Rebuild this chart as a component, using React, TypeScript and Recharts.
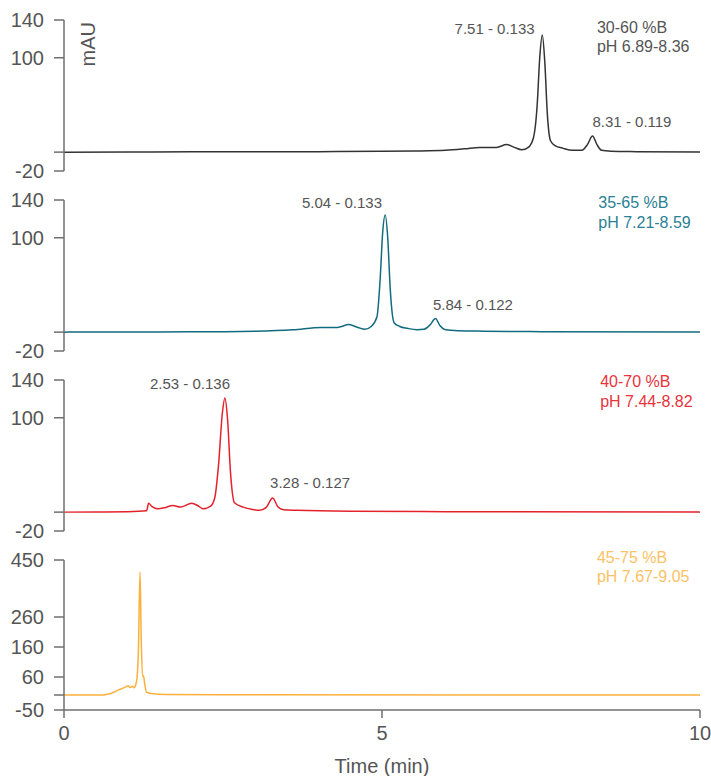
import { LineChart, Line, XAxis, YAxis, ReferenceDot } from "recharts";

const FONT = '"Liberation Sans", Arial, Helvetica, sans-serif';
const AXIS = "#6f6f6f";
const TEXT = "#555555";

// time axis
const X_TICKS = [0, 5, 10];

// 30-60 %B
const TIME_1 = [0, 1, 2, 3, 4, 5, 5.5, 6.0, 6.3, 6.54, 6.8, 6.96, 7.08, 7.2, 7.3, 7.38, 7.44, 7.48, 7.52, 7.56, 7.6, 7.65, 7.72, 7.85, 8.0, 8.14, 8.23, 8.31, 8.38, 8.45, 8.6, 9.0, 10];
const MAU_1 = [0, 0.1, 0.3, 0.3, 0.5, 0.8, 1.2, 2, 3.5, 5, 5, 8, 5, 2.5, 5, 15, 50, 100, 124, 95, 40, 12, 7, 4, 2, 2, 8, 17, 8, 2, 1, 0.5, 0];

// 35-65 %B
const TIME_2 = [0, 1, 2, 3, 3.6, 4.05, 4.3, 4.48, 4.62, 4.73, 4.83, 4.92, 4.97, 5.01, 5.05, 5.09, 5.13, 5.19, 5.28, 5.4, 5.55, 5.66, 5.76, 5.84, 5.91, 6.0, 6.2, 6.6, 7.5, 10];
const MAU_2 = [0, 0.2, 0.3, 1, 2.5, 5, 5, 8, 5, 3, 6, 16, 55, 105, 124, 100, 45, 10, 6, 4, 2.5, 3, 8, 14.5, 7, 2.5, 1.5, 1, 0.5, 0];

// 40-70 %B
const TIME_3 = [0, 0.5, 1.0, 1.3, 1.33, 1.38, 1.48, 1.6, 1.71, 1.83, 2.01, 2.1, 2.19, 2.3, 2.37, 2.43, 2.49, 2.53, 2.57, 2.62, 2.68, 2.82, 2.95, 3.08, 3.18, 3.28, 3.36, 3.45, 3.66, 4.5, 6, 10];
const MAU_3 = [0, 0.2, 0.5, 1.5, 9.5, 6, 3.5, 5, 7, 5.3, 9.5, 7, 3.5, 6, 15, 50, 105, 121, 100, 40, 10, 5.3, 3, 2, 5, 15, 6, 2.5, 2, 1, 0.5, 0];

// 45-75 %B
const TIME_4 = [0, 0.6, 0.66, 0.72, 0.78, 0.86, 0.93, 0.98, 1.01, 1.04, 1.08, 1.1, 1.14, 1.17, 1.195, 1.215, 1.235, 1.25, 1.27, 1.3, 1.4, 1.6, 2.5, 10];
const MAU_4 = [0, 0, 1.5, 4, 9, 17, 23, 28, 31, 25, 29, 24, 45, 150, 410, 180, 62, 64, 35, 9, 4, 2, 1, 0];

const Y_TICKS_SMALL = [-20, 0, 100, 140];
const Y_TICKS_LARGE = [-50, 0, 60, 160, 260, 450];

type Note = { x: number; y: number; lines: string[]; anchor: "start" | "end"; color: string; size: number };

type Panel = {
  time: number[];
  mau: number[];
  color: string;
  domain: [number, number];
  ticks: number[];
  notes: Note[];
};

const zip = (t: number[], v: number[]) => t.map((x, i) => ({ t: x, v: v[i] }));

const PANELS: Panel[] = [
  {
    time: TIME_1,
    mau: MAU_1,
    color: "#333333",
    domain: [-20, 140],
    ticks: Y_TICKS_SMALL,
    notes: [
      { x: 7.4, y: 131, lines: ["7.51 - 0.133"], anchor: "end", color: TEXT, size: 15 },
      { x: 8.31, y: 32, lines: ["8.31 - 0.119"], anchor: "start", color: TEXT, size: 15 },
      { x: 8.38, y: 132, lines: ["30-60 %B", "pH 6.89-8.36"], anchor: "start", color: TEXT, size: 16 },
    ],
  },
  {
    time: TIME_2,
    mau: MAU_2,
    color: "#136b7f",
    domain: [-20, 140],
    ticks: Y_TICKS_SMALL,
    notes: [
      { x: 5.0, y: 137.5, lines: ["5.04 - 0.133"], anchor: "end", color: TEXT, size: 15 },
      { x: 5.8, y: 28.7, lines: ["5.84 - 0.122"], anchor: "start", color: TEXT, size: 15 },
      { x: 8.4, y: 137, lines: ["35-65 %B", "pH 7.21-8.59"], anchor: "start", color: "#2a7f94", size: 16 },
    ],
  },
  {
    time: TIME_3,
    mau: MAU_3,
    color: "#e3232c",
    domain: [-20, 140],
    ticks: Y_TICKS_SMALL,
    notes: [
      { x: 2.61, y: 136, lines: ["2.53 - 0.136"], anchor: "end", color: TEXT, size: 15 },
      { x: 3.24, y: 31, lines: ["3.28 - 0.127"], anchor: "start", color: TEXT, size: 15 },
      { x: 8.43, y: 138, lines: ["40-70 %B", "pH 7.44-8.82"], anchor: "start", color: "#e8333b", size: 16 },
    ],
  },
  {
    time: TIME_4,
    mau: MAU_4,
    color: "#fbb03b",
    domain: [-50, 450],
    ticks: Y_TICKS_LARGE,
    notes: [
      { x: 8.38, y: 459, lines: ["45-75 %B", "pH 7.67-9.05"], anchor: "start", color: "#fbc266", size: 16 },
    ],
  },
];

function NoteText({ viewBox, note }: any) {
  const x = viewBox.x;
  const y = viewBox.y;
  return (
    <text x={x} y={y} textAnchor={note.anchor} fill={note.color} fontSize={note.size} fontFamily={FONT}>
      {note.lines.map((l: string, i: number) => (
        <tspan key={i} x={x} dy={i === 0 ? "0.35em" : "1.2em"}>
          {l}
        </tspan>
      ))}
    </text>
  );
}

function UnitLabel({ viewBox }: any) {
  const x = viewBox.x + viewBox.width + 24;
  const y = viewBox.y + 2;
  return (
    <text
      transform={`translate(${x},${y}) rotate(-90)`}
      textAnchor="end"
      dominantBaseline="central"
      fill={TEXT}
      fontSize={20}
      fontFamily={FONT}
    >
      mAU
    </text>
  );
}

function Trace({ p, first, last }: { p: Panel; first: boolean; last: boolean }) {
  const data = zip(p.time, p.mau);
  const tickStyle = { fill: TEXT, fontSize: 20, fontFamily: FONT };
  const line = { stroke: AXIS, strokeWidth: 1.5 };
  return (
    <LineChart
      width={711}
      height={last ? 236 : 200}
      data={data}
      margin={{ top: 20, right: 11, bottom: last ? 0 : 29, left: 0 }}
    >
      <XAxis
        type="number"
        dataKey="t"
        domain={[0, 10]}
        ticks={X_TICKS}
        interval={0}
        height={last ? 66 : 0}
        tick={last ? tickStyle : false}
        tickLine={last ? line : false}
        tickSize={8}
        tickMargin={8}
        axisLine={line}
        label={
          last
            ? { value: "Time (min)", position: "insideBottom", offset: 3, fill: TEXT, fontSize: 20, fontFamily: FONT }
            : undefined
        }
      />
      <YAxis
        type="number"
        domain={p.domain}
        ticks={p.ticks}
        interval={0}
        width={64}
        tick={tickStyle}
        tickLine={line}
        tickSize={10}
        tickMargin={10}
        axisLine={line}
        tickFormatter={(v: number) => (v === 0 ? "" : String(v))}
        label={first ? (props: any) => <UnitLabel {...props} /> : undefined}
      />
      <Line
        type="monotone"
        dataKey="v"
        stroke={p.color}
        strokeWidth={1.5}
        dot={false}
        isAnimationActive={false}
      />
      {p.notes.map((n, i) => (
        <ReferenceDot
          key={i}
          x={n.x}
          y={n.y}
          r={0}
          fill="none"
          stroke="none"
          ifOverflow="visible"
          label={(props: any) => <NoteText {...props} note={n} />}
        />
      ))}
    </LineChart>
  );
}

export default function App() {
  return (
    <div style={{ position: "absolute", left: 0, top: 0, width: 711, height: 776, background: "#fff" }}>
      {PANELS.map((p, i) => (
        <div key={i} style={{ position: "absolute", left: 0, top: i * 180 }}>
          <Trace p={p} first={i === 0} last={i === PANELS.length - 1} />
        </div>
      ))}
    </div>
  );
}
